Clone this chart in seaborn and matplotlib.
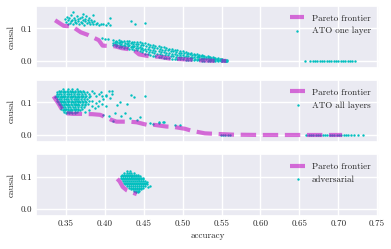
import matplotlib
matplotlib.use("Agg")
import matplotlib.pyplot as plt
import pandas as pd
import seaborn as sns

# ---------------- panel 1: ATO one layer ----------------
one_front_acc = [0.336, 0.347, 0.358, 0.369, 0.378, 0.392, 0.397, 0.413, 0.422, 0.437,
                 0.444, 0.460, 0.469, 0.484, 0.492, 0.509, 0.518, 0.533, 0.541, 0.556]
one_front_causal = [0.125, 0.108, 0.106, 0.088, 0.080, 0.064, 0.047, 0.045, 0.039, 0.034,
                    0.020, 0.013, 0.013, 0.007, 0.006, 0.004, 0.002, 0.001, 0.000, 0.000]

one_cluster_acc = [0.349, 0.350, 0.351, 0.352, 0.353, 0.354, 0.355, 0.356, 0.357, 0.358,
                   0.359, 0.360, 0.361, 0.362, 0.363, 0.364, 0.365, 0.366, 0.367, 0.368,
                   0.369, 0.370, 0.371, 0.372, 0.373, 0.374, 0.375, 0.376, 0.377, 0.378,
                   0.379, 0.380, 0.381, 0.382, 0.383, 0.385, 0.386, 0.388, 0.390, 0.392,
                   0.395, 0.398, 0.401, 0.404, 0.406, 0.407, 0.359, 0.372, 0.385, 0.434,
                   0.439, 0.4515, 0.396, 0.400, 0.404]
one_cluster_causal = [0.128, 0.120, 0.135, 0.115, 0.125, 0.131, 0.118, 0.122, 0.140, 0.127,
                      0.113, 0.133, 0.120, 0.126, 0.116, 0.137, 0.123, 0.129, 0.114, 0.131,
                      0.121, 0.134, 0.118, 0.126, 0.111, 0.130, 0.122, 0.138, 0.116, 0.125,
                      0.133, 0.119, 0.112, 0.127, 0.121, 0.115, 0.124, 0.112, 0.118, 0.111,
                      0.113, 0.112, 0.110, 0.116, 0.111, 0.133, 0.150, 0.145, 0.142, 0.122,
                      0.115, 0.118, 0.069, 0.068, 0.067]

# the long band of runs that falls off towards accuracy 0.56
one_band_acc = [0.411, 0.414, 0.418, 0.421, 0.424, 0.428, 0.431, 0.435, 0.438, 0.441,
                0.445, 0.448, 0.451, 0.455, 0.458, 0.462, 0.465, 0.469, 0.472, 0.476,
                0.479, 0.483, 0.486, 0.490, 0.493, 0.497, 0.500, 0.504, 0.507, 0.511,
                0.514, 0.518, 0.521, 0.525, 0.528, 0.532, 0.535, 0.539, 0.542, 0.546,
                0.549, 0.553, 0.556]
one_band_acc2 = [0.4125, 0.416, 0.4195, 0.4225, 0.426, 0.4295, 0.433, 0.4365, 0.4395, 0.443,
                 0.4465, 0.4495, 0.453, 0.4565, 0.460, 0.4635, 0.467, 0.4705, 0.474, 0.4775,
                 0.481, 0.4845, 0.488, 0.4915, 0.495, 0.4985, 0.502, 0.5055, 0.509, 0.5125,
                 0.516, 0.5195, 0.523, 0.5265, 0.530, 0.5335, 0.537, 0.5405, 0.544, 0.5475,
                 0.551, 0.5545, 0.5575]
one_band_top = [0.063, 0.062, 0.063, 0.061, 0.061, 0.060, 0.060, 0.059, 0.058, 0.058,
                0.057, 0.055, 0.054, 0.052, 0.050, 0.048, 0.047, 0.045, 0.043, 0.042,
                0.040, 0.038, 0.036, 0.034, 0.032, 0.030, 0.029, 0.027, 0.025, 0.024,
                0.022, 0.021, 0.019, 0.018, 0.016, 0.015, 0.013, 0.011, 0.010, 0.008,
                0.006, 0.004, 0.002]
one_band_upmid = [0.059, 0.058, 0.058, 0.057, 0.055, 0.055, 0.054, 0.053, 0.052, 0.051,
                  0.050, 0.048, 0.046, 0.044, 0.042, 0.040, 0.039, 0.037, 0.035, 0.034,
                  0.032, 0.030, 0.029, 0.027, 0.025, 0.024, 0.023, 0.021, 0.020, 0.018,
                  0.017, 0.016, 0.015, 0.014, 0.012, 0.011, 0.010, 0.008, 0.007, 0.006,
                  0.005, 0.003, 0.002]
one_band_mid = [0.056, 0.053, 0.054, 0.052, 0.050, 0.051, 0.049, 0.047, 0.046, 0.045,
                0.044, 0.041, 0.038, 0.036, 0.034, 0.032, 0.031, 0.029, 0.027, 0.026,
                0.025, 0.023, 0.022, 0.020, 0.019, 0.018, 0.017, 0.016, 0.015, 0.013,
                0.012, 0.012, 0.011, 0.010, 0.009, 0.008, 0.007, 0.006, 0.005, 0.004,
                0.003, 0.002, 0.001]
one_band_lowmid = [0.052, 0.050, 0.049, 0.047, 0.046, 0.045, 0.044, 0.042, 0.040, 0.039,
                   0.037, 0.034, 0.030, 0.028, 0.026, 0.024, 0.022, 0.020, 0.019, 0.018,
                   0.017, 0.015, 0.014, 0.013, 0.012, 0.011, 0.011, 0.010, 0.009, 0.008,
                   0.007, 0.007, 0.006, 0.005, 0.005, 0.004, 0.003, 0.003, 0.002, 0.002,
                   0.001, 0.001, 0.000]
one_band_low = [0.048, 0.046, 0.044, 0.043, 0.041, 0.040, 0.038, 0.036, 0.034, 0.032,
                0.030, 0.026, 0.022, 0.020, 0.018, 0.016, 0.014, 0.012, 0.011, 0.010,
                0.009, 0.008, 0.007, 0.006, 0.006, 0.005, 0.005, 0.004, 0.004, 0.003,
                0.003, 0.002, 0.002, 0.001, 0.001, 0.001, 0.000, 0.000, 0.000, 0.000,
                0.000, 0.000, 0.000]

one_zero_acc = [0.657, 0.664, 0.667, 0.670, 0.673, 0.676, 0.679, 0.682, 0.685, 0.688,
                0.691, 0.694, 0.697, 0.700, 0.703, 0.706, 0.709, 0.712, 0.715, 0.718, 0.721]
one_zero_causal = [0.001, 0.000, 0.001, 0.001, 0.000, 0.001, 0.000, 0.001, 0.001, 0.000,
                   0.001, 0.000, 0.001, 0.001, 0.000, 0.001, 0.000, 0.001, 0.000, 0.001, 0.000]

# ---------------- panel 2: ATO all layers ----------------
all_front_acc = [0.334, 0.340, 0.3465, 0.349, 0.359, 0.368, 0.384, 0.394, 0.409, 0.415,
                 0.432, 0.441, 0.4545, 0.464, 0.479, 0.488, 0.503, 0.5115, 0.5286, 0.537,
                 0.565, 0.600, 0.650, 0.705]
all_front_causal = [0.119, 0.098, 0.072, 0.067, 0.065, 0.065, 0.064, 0.062, 0.046, 0.041,
                    0.041, 0.039, 0.031, 0.031, 0.026, 0.025, 0.019, 0.013, 0.005, 0.004,
                    0.001, 0.000, 0.000, 0.000]

# dense cloud, one row of accuracies per causal level
all_row_causal = [0.141, 0.136, 0.131, 0.126, 0.121, 0.116, 0.111, 0.106,
                  0.101, 0.096, 0.091, 0.086, 0.081, 0.076, 0.071, 0.067]
all_row_acc = [
    [0.346, 0.352, 0.358, 0.364],
    [0.341, 0.344, 0.348, 0.351, 0.355, 0.358, 0.361, 0.365, 0.368, 0.372],
    [0.339, 0.342, 0.346, 0.349, 0.352, 0.356, 0.359, 0.362, 0.366, 0.369, 0.373, 0.377],
    [0.338, 0.341, 0.344, 0.347, 0.351, 0.354, 0.357, 0.360, 0.364, 0.367, 0.370, 0.374, 0.379],
    [0.337, 0.340, 0.343, 0.346, 0.349, 0.353, 0.356, 0.359, 0.362, 0.365, 0.369, 0.372, 0.376, 0.381],
    [0.336, 0.339, 0.342, 0.345, 0.348, 0.351, 0.355, 0.358, 0.361, 0.364, 0.367, 0.371, 0.375, 0.379],
    [0.338, 0.341, 0.344, 0.347, 0.350, 0.353, 0.356, 0.360, 0.363, 0.366, 0.369, 0.373, 0.377],
    [0.339, 0.342, 0.345, 0.348, 0.351, 0.354, 0.358, 0.361, 0.364, 0.367, 0.371, 0.375, 0.380],
    [0.340, 0.343, 0.346, 0.349, 0.352, 0.356, 0.359, 0.362, 0.365, 0.368, 0.372, 0.376],
    [0.341, 0.344, 0.347, 0.350, 0.353, 0.357, 0.360, 0.363, 0.366, 0.370, 0.374, 0.378],
    [0.342, 0.345, 0.348, 0.351, 0.354, 0.358, 0.361, 0.364, 0.367, 0.371, 0.375],
    [0.343, 0.346, 0.349, 0.352, 0.355, 0.359, 0.362, 0.365, 0.369, 0.373],
    [0.344, 0.347, 0.350, 0.353, 0.356, 0.360, 0.363, 0.366, 0.370],
    [0.346, 0.349, 0.352, 0.355, 0.358, 0.361, 0.365, 0.368],
    [0.348, 0.351, 0.354, 0.357, 0.361, 0.364],
    [0.350, 0.354, 0.358, 0.362],
]

all_sparse_acc = [0.383, 0.386, 0.389, 0.392, 0.395, 0.398, 0.401, 0.384, 0.388, 0.392,
                  0.396, 0.383, 0.387, 0.391, 0.402, 0.405, 0.409, 0.409, 0.415, 0.419,
                  0.428, 0.413, 0.426, 0.411, 0.421, 0.432, 0.445, 0.441, 0.458, 0.469,
                  0.476, 0.434, 0.437, 0.4515, 0.462, 0.470, 0.475, 0.490, 0.497, 0.379,
                  0.375, 0.398, 0.405, 0.402, 0.396, 0.4066]
all_sparse_causal = [0.134, 0.128, 0.119, 0.125, 0.131, 0.112, 0.120, 0.105, 0.098, 0.104,
                     0.094, 0.088, 0.082, 0.090, 0.088, 0.136, 0.134, 0.127, 0.093, 0.103,
                     0.096, 0.067, 0.067, 0.044, 0.057, 0.052, 0.055, 0.046, 0.038, 0.041,
                     0.041, 0.124, 0.118, 0.121, 0.034, 0.038, 0.040, 0.031, 0.031, 0.078,
                     0.071, 0.061, 0.059, 0.124, 0.119, 0.114]

all_zero_acc = [0.549, 0.552, 0.555, 0.558, 0.561, 0.659, 0.662, 0.665, 0.668, 0.671,
                0.674, 0.677, 0.680, 0.683, 0.686, 0.689, 0.692, 0.695, 0.698, 0.701,
                0.704, 0.707, 0.710, 0.713, 0.716, 0.720, 0.726, 0.732]
all_zero_causal = [0.001, 0.000, 0.001, 0.000, 0.001, 0.001, 0.000, 0.001, 0.001, 0.000,
                   0.001, 0.000, 0.001, 0.001, 0.000, 0.001, 0.000, 0.001, 0.001, 0.000,
                   0.001, 0.000, 0.001, 0.000, 0.001, 0.000, 0.001, 0.000]

# ---------------- panel 3: adversarial ----------------
adv_front_acc = [0.416, 0.419, 0.423, 0.428, 0.434, 0.441]
adv_front_causal = [0.093, 0.085, 0.068, 0.058, 0.052, 0.046]

adv_row_causal = [0.116, 0.111, 0.106, 0.101, 0.096, 0.091, 0.086,
                  0.081, 0.076, 0.071, 0.066, 0.061, 0.056, 0.051]
adv_row_acc = [
    [0.429, 0.432],
    [0.425, 0.428, 0.431, 0.434, 0.437],
    [0.422, 0.4245, 0.427, 0.4295, 0.432, 0.4345, 0.437, 0.4395, 0.442],
    [0.4205, 0.423, 0.4255, 0.428, 0.4305, 0.433, 0.4355, 0.438, 0.4405, 0.443, 0.4455],
    [0.421, 0.4235, 0.426, 0.4285, 0.431, 0.4335, 0.436, 0.4385, 0.441, 0.4435, 0.446, 0.4485],
    [0.422, 0.4245, 0.427, 0.4295, 0.432, 0.4345, 0.437, 0.4395, 0.442, 0.4445, 0.447, 0.4495],
    [0.4235, 0.426, 0.4285, 0.431, 0.4335, 0.436, 0.4385, 0.441, 0.4435, 0.446, 0.4485, 0.451],
    [0.425, 0.4275, 0.430, 0.4325, 0.435, 0.4375, 0.440, 0.4425, 0.445, 0.4475, 0.450, 0.4525],
    [0.4265, 0.429, 0.4315, 0.434, 0.4365, 0.439, 0.4415, 0.444, 0.4465, 0.449, 0.4515, 0.454],
    [0.429, 0.4315, 0.434, 0.4365, 0.439, 0.4415, 0.444, 0.4465, 0.449, 0.4515],
    [0.4315, 0.434, 0.4365, 0.439, 0.4415, 0.444, 0.4465, 0.449],
    [0.434, 0.4365, 0.439, 0.4415, 0.444, 0.4465],
    [0.437, 0.4395, 0.442, 0.4445],
    [0.440, 0.4425],
]
adv_tail_acc = [0.456, 0.4575, 0.4545]
adv_tail_causal = [0.068, 0.071, 0.083]

x_ticks = [0.35, 0.40, 0.45, 0.50, 0.55, 0.60, 0.65, 0.70, 0.75]
y_ticks = [0.0, 0.1]
labels = ["ATO one layer", "ATO all layers", "adversarial"]

POINT_COLOR = "#00BFBF"
FRONT_COLOR = "#BF00BF"


def expand_rows(row_causal, row_acc):
    acc, causal = [], []
    for c, accs in zip(row_causal, row_acc):
        acc += accs
        causal += [c] * len(accs)
    return acc, causal


def panel_one():
    acc = (one_cluster_acc + one_band_acc + one_band_acc2 + one_band_acc
           + one_band_acc2 + one_band_acc + one_zero_acc)
    causal = (one_cluster_causal + one_band_top + one_band_upmid + one_band_mid
              + one_band_lowmid + one_band_low + one_zero_causal)
    return pd.DataFrame({"accuracy": acc, "causal": causal}), one_front_acc, one_front_causal


def panel_all():
    acc, causal = expand_rows(all_row_causal, all_row_acc)
    acc = acc + all_sparse_acc + all_zero_acc
    causal = causal + all_sparse_causal + all_zero_causal
    return pd.DataFrame({"accuracy": acc, "causal": causal}), all_front_acc, all_front_causal


def panel_adv():
    acc, causal = expand_rows(adv_row_causal, adv_row_acc)
    acc = acc + adv_tail_acc
    causal = causal + adv_tail_causal
    return pd.DataFrame({"accuracy": acc, "causal": causal}), adv_front_acc, adv_front_causal


sns.set_theme(style="darkgrid")
plt.rcParams["font.family"] = ["cmr10", "DejaVu Serif"]
plt.rcParams["mathtext.fontset"] = "cm"
plt.rcParams["axes.formatter.use_mathtext"] = True
fs = 6.5

fig, axes = plt.subplots(3, 1, figsize=(3.91, 2.49), dpi=100, sharex=True)
fig.subplots_adjust(left=0.092, right=0.969, top=0.976, bottom=0.133, hspace=0.2)

for ax, (df, f_acc, f_causal), label in zip(axes, [panel_one(), panel_all(), panel_adv()], labels):
    sns.scatterplot(data=df, x="accuracy", y="causal", ax=ax, s=3, color=POINT_COLOR,
                    linewidth=0, label=label, legend=False, zorder=2)
    ax.plot(f_acc, f_causal, color=FRONT_COLOR, alpha=0.55, lw=3, linestyle="--",
            label="Pareto frontier", zorder=3)
    ax.set_xlim(0.3114, 0.7523)
    ax.set_ylim(-0.021, 0.169)
    ax.tick_params(length=0, pad=3)
    ax.set_yticks(y_ticks)
    ax.set_yticklabels([f"{t:.1f}" for t in y_ticks], fontsize=fs)
    ax.set_ylabel("causal", fontsize=fs, labelpad=3)
    ax.set_xlabel("")
    handles, names = ax.get_legend_handles_labels()
    order = [names.index("Pareto frontier"), names.index(label)]
    ax.legend([handles[i] for i in order], [names[i] for i in order], loc="upper right",
              frameon=False, fontsize=fs, handlelength=1.6, borderaxespad=0.5)

axes[-1].set_xticks(x_ticks)
axes[-1].set_xticklabels([f"{t:.2f}" for t in x_ticks], fontsize=fs)
axes[-1].set_xlabel("accuracy", fontsize=fs, labelpad=2)

fig.savefig("out.png", dpi=100)
